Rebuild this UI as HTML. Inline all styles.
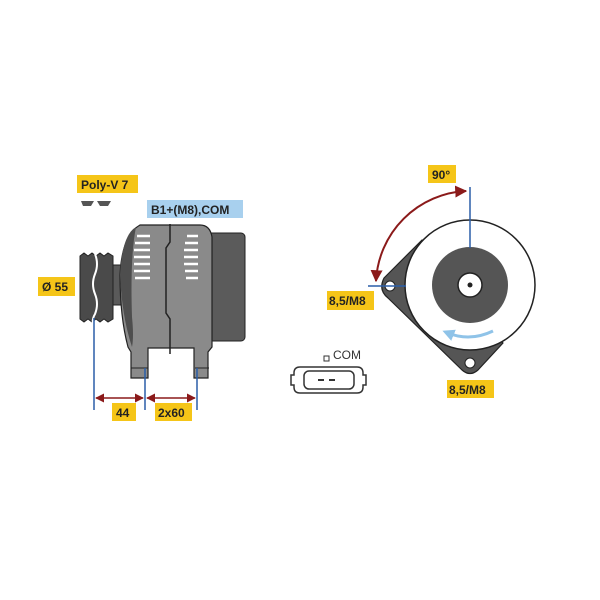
<!DOCTYPE html>
<html><head><meta charset="utf-8"><style>
html,body{margin:0;padding:0;background:#fff;}
svg{display:block}
text{font-family:"Liberation Sans",sans-serif;font-weight:bold;font-size:12px;fill:#222}
</style></head><body>
<svg width="600" height="600" viewBox="0 0 600 600" xmlns="http://www.w3.org/2000/svg">
<defs>
<marker id="ar" viewBox="0 0 10 10" refX="9" refY="5" markerWidth="6" markerHeight="6" orient="auto-start-reverse"><path d="M0,0L10,5L0,10z" fill="#8b1a1a"/></marker>
<marker id="arb" viewBox="0 0 10 10" refX="5" refY="5" markerWidth="4" markerHeight="4" orient="auto"><path d="M0,0L10,5L0,10z" fill="#8fc3e8"/></marker>
</defs>
<rect x="77" y="175" width="61" height="18" fill="#f5c518"/>
<text x="81" y="189">Poly-V 7</text>
<path d="M81,201h13l-3,5h-8zM97,201h14l-3,5h-8z" fill="#555"/>
<rect x="147" y="200" width="96" height="18" fill="#a8d0ee"/>
<text x="151" y="214">B1+(M8),COM</text>
<path d="M80,256 l4,-3 l4,3 l4,-3 l4,3 l4,-3 l4,3 l4,-3 l5,3 v63 l-5,3 l-4,-3 l-4,3 l-4,-3 l-4,3 l-4,-3 l-4,3 l-4,-3z" fill="#4a4a4a" stroke="#222" stroke-width="1"/>
<path d="M95,254 q4,10 0,20 q-4,10 0,20 q4,10 0,20 q-3,5 -2,10" fill="none" stroke="#fff" stroke-width="2"/>
<rect x="113" y="265" width="8" height="40" fill="#5a5a5a" stroke="#222" stroke-width="1"/>
<rect x="203" y="233" width="42" height="108" rx="4" fill="#5b5b5b" stroke="#222" stroke-width="1"/>
<path d="M120,275 q2,-40 20,-50 h60 q10,0 12,12 v110 l-4,5 v26 h-14 v-30 h-46 v30 h-17 v-26 l-3,-5 q-8,-30 -8,-72z" fill="#8a8a8a" stroke="#222" stroke-width="1.2"/>
<path d="M120,275 q2,-40 16,-48 q-6,30 -4,90 q2,20 0,30 q-10,-30 -12,-72z" fill="#4e4e4e"/>
<path d="M170,224 v18 l-4,6 v65 l4,6 v35" fill="none" stroke="#222" stroke-width="1.5"/>
<g stroke="#fff" stroke-width="2.5">
<line x1="137" y1="236" x2="150" y2="236"/><line x1="135" y1="243" x2="150" y2="243"/><line x1="134" y1="250" x2="150" y2="250"/><line x1="134" y1="257" x2="150" y2="257"/><line x1="134" y1="264" x2="150" y2="264"/><line x1="134" y1="271" x2="150" y2="271"/><line x1="135" y1="278" x2="150" y2="278"/>
<line x1="187" y1="236" x2="198" y2="236"/><line x1="185" y1="243" x2="198" y2="243"/><line x1="184" y1="250" x2="198" y2="250"/><line x1="184" y1="257" x2="198" y2="257"/><line x1="184" y1="264" x2="198" y2="264"/><line x1="185" y1="271" x2="198" y2="271"/><line x1="186" y1="278" x2="198" y2="278"/>
</g>
<line x1="131" y1="368" x2="148" y2="368" stroke="#222"/><line x1="195" y1="368" x2="209" y2="368" stroke="#222"/>
<g stroke="#2b5ea8" stroke-width="1.5">
<line x1="94" y1="318" x2="94" y2="410"/><line x1="145" y1="368" x2="145" y2="410"/><line x1="197" y1="368" x2="197" y2="410"/>
</g>
<line x1="96" y1="398" x2="143" y2="398" stroke="#8b1a1a" stroke-width="1.5" marker-start="url(#ar)" marker-end="url(#ar)"/>
<line x1="147" y1="398" x2="195" y2="398" stroke="#8b1a1a" stroke-width="1.5" marker-start="url(#ar)" marker-end="url(#ar)"/>
<rect x="38" y="277" width="37" height="19" fill="#f5c518"/><text x="42" y="291">Ø 55</text>
<rect x="112" y="403" width="24" height="18" fill="#f5c518"/><text x="116" y="417">44</text>
<rect x="155" y="403" width="37" height="18" fill="#f5c518"/><text x="158" y="417">2x60</text>
<path d="M422,240 L384,278 Q378,290 388,298 L462,370 Q470,377 478,370 L503,343 Z" fill="#555" stroke="#222" stroke-width="1.2" stroke-linejoin="round"/>
<circle cx="470" cy="285" r="65" fill="#fff" stroke="#222" stroke-width="1.5"/>
<circle cx="470" cy="285" r="38" fill="#555"/>
<circle cx="470" cy="285" r="12" fill="#fff" stroke="#222" stroke-width="1.5"/>
<circle cx="470" cy="285" r="2.5" fill="#222"/>
<circle cx="390" cy="286" r="5" fill="#fff" stroke="#222"/>
<circle cx="470" cy="363" r="5" fill="#fff" stroke="#222"/>
<path d="M493,331 Q470,342 448,333" fill="none" stroke="#8fc3e8" stroke-width="3" marker-end="url(#arb)"/>
<line x1="470" y1="187" x2="470" y2="248" stroke="#2b5ea8" stroke-width="1.5"/>
<line x1="368" y1="286" x2="406" y2="286" stroke="#2b5ea8" stroke-width="1.5"/>
<path d="M466,191 A95,95 0 0 0 376,281" fill="none" stroke="#8b1a1a" stroke-width="2" marker-start="url(#ar)" marker-end="url(#ar)"/>
<rect x="428" y="165" width="28" height="18" fill="#f5c518"/><text x="432" y="179">90°</text>
<rect x="327" y="291" width="47" height="19" fill="#f5c518"/><text x="329" y="305">8,5/M8</text>
<rect x="447" y="380" width="47" height="18" fill="#f5c518"/><text x="449" y="394">8,5/M8</text>
<text x="333" y="359" style="font-weight:normal;fill:#333">COM</text>
<rect x="324" y="356" width="5" height="5" fill="#fff" stroke="#333"/>
<path d="M300,367 h57 q6,0 6,6 v2 h3 v10 h-3 v2 q0,6 -6,6 h-57 q-6,0 -6,-6 v-2 h-3 v-10 h3 v-2 q0,-6 6,-6z" fill="#fff" stroke="#333" stroke-width="1.5"/>
<rect x="304" y="371" width="50" height="18" rx="5" fill="#fff" stroke="#333" stroke-width="1.5"/>
<rect x="318" y="379" width="6" height="2" fill="#333"/><rect x="329" y="379" width="6" height="2" fill="#333"/>
</svg>
</body></html>
